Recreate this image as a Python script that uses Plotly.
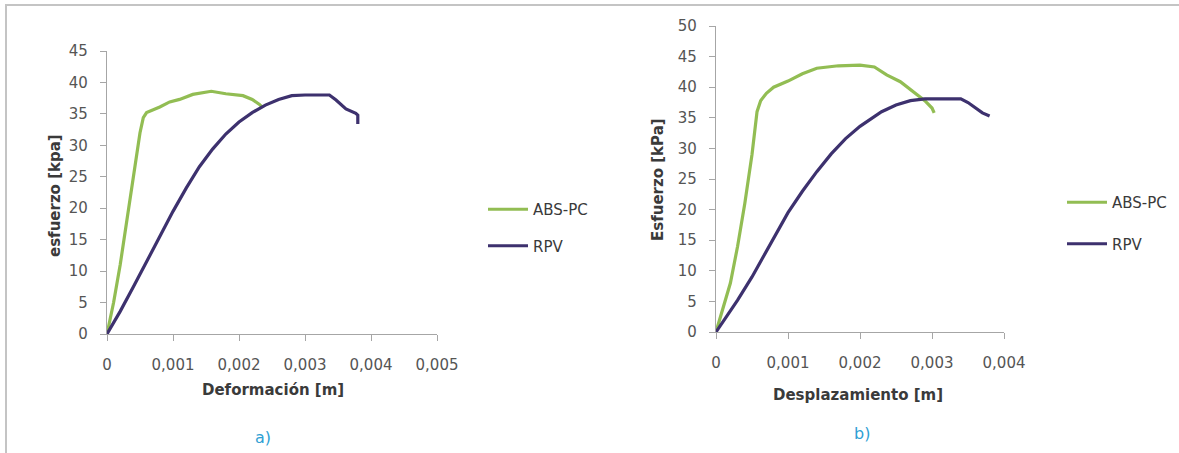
import plotly.graph_objects as go

W, H = 1179, 453

# ---------------- data ----------------
# Chart a) esfuerzo vs deformación
a_abs_x = [0, 0.0001, 0.0002, 0.0003, 0.0004, 0.0005, 0.00055, 0.0006, 0.0008, 0.00095, 0.0011,
           0.0013, 0.00158, 0.0018, 0.00206, 0.0022, 0.00231, 0.00236]
a_abs_y = [0, 5, 11, 18, 25, 32, 34.4, 35.2, 36.1, 36.9, 37.3, 38.1, 38.6, 38.2, 37.9, 37.3, 36.5, 36.0]
a_rpv_x = [0, 0.0002, 0.0004, 0.0006, 0.0008, 0.001, 0.0012, 0.0014, 0.0016, 0.0018, 0.002,
           0.0022, 0.0024, 0.0026, 0.0028, 0.003, 0.00337, 0.00347, 0.00362, 0.00377, 0.0038, 0.0038]
a_rpv_y = [0, 3.6, 7.5, 11.5, 15.5, 19.5, 23.2, 26.6, 29.4, 31.8, 33.7, 35.2, 36.4, 37.3, 37.9, 38.0,
           38.0, 37.2, 35.8, 35.1, 34.8, 33.4]

# Chart b) esfuerzo vs desplazamiento
b_abs_x = [0, 0.0001, 0.0002, 0.0003, 0.0004, 0.0005, 0.00057, 0.00062, 0.0007, 0.0008, 0.001,
           0.0012, 0.0014, 0.0017, 0.002, 0.0022, 0.00237, 0.00256, 0.00274, 0.0029, 0.003, 0.00303]
b_abs_y = [0, 4, 8, 14, 21, 29, 36, 37.8, 39.0, 40.0, 41.0, 42.2, 43.1, 43.5, 43.6, 43.3, 42.0,
           40.9, 39.3, 37.8, 36.6, 35.8]
b_rpv_x = [0, 0.0003, 0.0005, 0.0007, 0.001, 0.0012, 0.0014, 0.0016, 0.0018, 0.002, 0.0023, 0.0025,
           0.0027, 0.0029, 0.0034, 0.0035, 0.0036, 0.0037, 0.0038]
b_rpv_y = [0, 5.2, 9.0, 13.2, 19.5, 23.0, 26.2, 29.1, 31.6, 33.6, 36.0, 37.1, 37.8, 38.1, 38.1,
           37.5, 36.6, 35.8, 35.3]

series_names = ["ABS-PC", "RPV"]
a_xticks = [0, 0.001, 0.002, 0.003, 0.004, 0.005]
a_xticktext = ["0", "0,001", "0,002", "0,003", "0,004", "0,005"]
b_xticks = [0, 0.001, 0.002, 0.003, 0.004]
b_xticktext = ["0", "0,001", "0,002", "0,003", "0,004"]
a_yticks = [0, 5, 10, 15, 20, 25, 30, 35, 40, 45]
b_yticks = [0, 5, 10, 15, 20, 25, 30, 35, 40, 45, 50]
a_xtitle, a_ytitle = "Deformación [m]", "esfuerzo [kpa]"
b_xtitle, b_ytitle = "Desplazamiento [m]", "Esfuerzo [kPa]"
panel_labels = ["a)", "b)"]

# ---------------- style ----------------
GREEN = "#92bd53"
PURPLE = "#3d316e"
AXIS = "#a6a6a6"
TXT = "#555555"
FONT = "DejaVu Sans"

def px(x):
    return x / W

def py(y):
    return 1 - y / H

fig = go.Figure()
fig.add_trace(go.Scatter(x=a_abs_x, y=a_abs_y, mode="lines", name=series_names[0],
                         line=dict(color=GREEN, width=3.2), xaxis="x", yaxis="y",
                         legend="legend", legendgroup="a1"))
fig.add_trace(go.Scatter(x=a_rpv_x, y=a_rpv_y, mode="lines", name=series_names[1],
                         line=dict(color=PURPLE, width=3.2), xaxis="x", yaxis="y",
                         legend="legend", legendgroup="a2"))
fig.add_trace(go.Scatter(x=b_abs_x, y=b_abs_y, mode="lines", name=series_names[0],
                         line=dict(color=GREEN, width=3.2), xaxis="x2", yaxis="y2",
                         legend="legend2", legendgroup="b1"))
fig.add_trace(go.Scatter(x=b_rpv_x, y=b_rpv_y, mode="lines", name=series_names[1],
                         line=dict(color=PURPLE, width=3.2), xaxis="x2", yaxis="y2",
                         legend="legend2", legendgroup="b2"))

common_axis = dict(showgrid=False, zeroline=False, showline=True, linecolor=AXIS, linewidth=1.3,
                   ticks="outside", tickcolor=AXIS, ticklen=6, tickwidth=1.3,
                   tickfont=dict(family=FONT, size=15, color=TXT), fixedrange=True)

# width/height are given through the page div (absolutely positioned at 0,0) so the
# browser's default body margin does not shift or scale the figure
fig.update_layout(
    autosize=True,
    margin=dict(l=0, r=0, t=0, b=0, autoexpand=False),
    paper_bgcolor="white", plot_bgcolor="white",
    font=dict(family=FONT, size=15, color=TXT),
    xaxis=dict(domain=[px(107), px(437)], range=[0, 0.005], tickvals=a_xticks, ticktext=a_xticktext,
               anchor="y", ticklabelstandoff=11, **common_axis),
    yaxis=dict(domain=[py(334), py(51)], range=[0, 45], tickvals=a_yticks, anchor="x",
               ticklabelstandoff=9, **common_axis),
    xaxis2=dict(domain=[px(716), px(1004)], range=[0, 0.004], tickvals=b_xticks, ticktext=b_xticktext,
                anchor="y2", ticklabelstandoff=11, **common_axis),
    yaxis2=dict(domain=[py(332), py(26)], range=[0, 50], tickvals=b_yticks, anchor="x2",
                ticklabelstandoff=9, **common_axis),
    legend=dict(x=px(483), y=py(193), xanchor="left", yanchor="top", bgcolor="rgba(0,0,0,0)",
                font=dict(family=FONT, size=15, color="#3a3a3a"), tracegroupgap=14,
                traceorder="grouped", itemwidth=40),
    legend2=dict(x=px(1062), y=py(186), xanchor="left", yanchor="top", bgcolor="rgba(0,0,0,0)",
                 font=dict(family=FONT, size=15, color="#3a3a3a"), tracegroupgap=19,
                 traceorder="grouped", itemwidth=40),
    showlegend=True,
)

title_font = dict(family=FONT, size=15, color="#3a3a3a")
annotations = [
    dict(text="<b>%s</b>" % a_xtitle, x=px(273), y=py(390), xref="paper", yref="paper",
         showarrow=False, font=title_font, xanchor="center", yanchor="middle"),
    dict(text="<b>%s</b>" % a_ytitle, x=px(55), y=py(196), xref="paper", yref="paper",
         showarrow=False, font=title_font, textangle=-90, xanchor="center", yanchor="middle"),
    dict(text="<b>%s</b>" % b_xtitle, x=px(858), y=py(395), xref="paper", yref="paper",
         showarrow=False, font=title_font, xanchor="center", yanchor="middle"),
    dict(text="<b>%s</b>" % b_ytitle, x=px(658), y=py(180), xref="paper", yref="paper",
         showarrow=False, font=title_font, textangle=-90, xanchor="center", yanchor="middle"),
    dict(text=panel_labels[0], x=px(263), y=py(437), xref="paper", yref="paper",
         showarrow=False, font=dict(family=FONT, size=16, color="#2f9fd4"),
         xanchor="center", yanchor="middle"),
    dict(text=panel_labels[1], x=px(862), y=py(433), xref="paper", yref="paper",
         showarrow=False, font=dict(family=FONT, size=16, color="#2f9fd4"),
         xanchor="center", yanchor="middle"),
]
fig.update_layout(annotations=annotations)

# outer frame (top and left edges)
fig.update_layout(shapes=[
    dict(type="line", xref="paper", yref="paper", x0=px(5), x1=1, y0=py(5), y1=py(5),
         line=dict(color="#c4c4c4", width=2)),
    dict(type="line", xref="paper", yref="paper", x0=px(6), x1=px(6), y0=py(5), y1=0,
         line=dict(color="#c4c4c4", width=2)),
])

fig.write_html("out.html",
               default_width="%dpx;position:absolute;left:0;top:0" % W,
               default_height="%dpx" % H)
